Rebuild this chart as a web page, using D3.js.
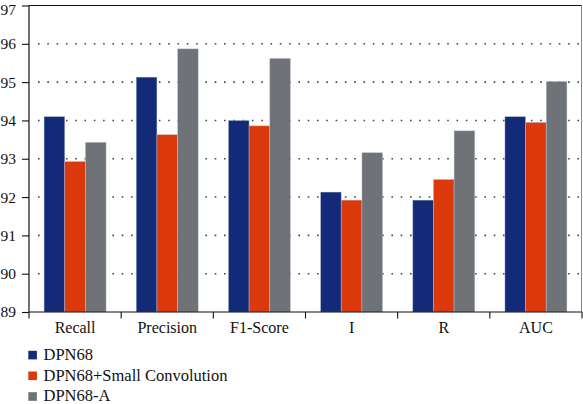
<!DOCTYPE html>
<html>
<head>
<meta charset="utf-8">
<script src="https://cdn.jsdelivr.net/npm/d3@7/dist/d3.min.js"></script>
<style>
  html, body { margin: 0; padding: 0; background: #fff; }
  svg { display: block; }
  text { font-family: "Liberation Serif", "DejaVu Serif", serif; fill: #111; }
</style>
</head>
<body>
<svg id="chart" width="583" height="404"></svg>
<script>
const categories = ["Recall", "Precision", "F1-Score", "I", "R", "AUC"];
const seriesNames = ["DPN68", "DPN68+Small Convolution", "DPN68-A"];
const dpn68 = [94.10, 95.13, 94.00, 92.13, 91.92, 94.10];
const dpn68Small = [92.93, 93.63, 93.86, 91.92, 92.46, 93.95];
const dpn68A = [93.43, 95.87, 95.62, 93.16, 93.73, 95.02];
const yTicks = [89, 90, 91, 92, 93, 94, 95, 96, 97];
const colors = ["#132a78", "#db380b", "#6f7377"];

const seriesValues = [dpn68, dpn68Small, dpn68A];

const svg = d3.select("#chart");
const mLeft = 29, mRight = 582, mTop = 5.5, mBottom = 312;

const y = d3.scaleLinear().domain([89, 97]).range([mBottom, mTop]);
const xOuter = d3.scaleBand().domain(categories).range([mLeft, mRight]).padding(0);
const x0 = d3.scaleBand().domain(categories).range([mLeft, mRight])
  .paddingInner(0.327).paddingOuter(0.1635);
const x1 = d3.scaleBand().domain(seriesNames).range([0, x0.bandwidth()]).padding(0);

// gridlines (dotted), behind bars
svg.append("g").selectAll("line")
  .data(yTicks.filter(t => t > 89 && t < 97))
  .join("line")
  .attr("x1", mLeft + 9).attr("x2", mRight)
  .attr("y1", d => y(d)).attr("y2", d => y(d))
  .attr("stroke", "#444")
  .attr("stroke-width", 1.6)
  .attr("stroke-dasharray", "1.6 7.7");

// bars
const groups = svg.append("g").selectAll("g")
  .data(categories)
  .join("g")
  .attr("transform", d => `translate(${x0(d)},0)`);

groups.selectAll("rect")
  .data((c, i) => seriesNames.map((s, j) => ({ s, j, v: seriesValues[j][i] })))
  .join("rect")
  .attr("x", d => x1(d.s))
  .attr("width", x1.bandwidth())
  .attr("y", d => y(d.v))
  .attr("height", d => y(89) - y(d.v))
  .attr("fill", d => colors[d.j])
  .attr("stroke", "rgba(200,205,220,0.55)")
  .attr("stroke-width", 0.7);

// frame top and right
svg.append("line").attr("x1", mLeft).attr("x2", mRight).attr("y1", mTop).attr("y2", mTop)
  .attr("stroke", "#111").attr("stroke-width", 1.2);
svg.append("line").attr("x1", mRight - 0.5).attr("x2", mRight - 0.5).attr("y1", mTop).attr("y2", mBottom)
  .attr("stroke", "#888").attr("stroke-width", 1);

// y axis
const yAxis = d3.axisLeft(y).tickValues(yTicks).tickSize(7).tickPadding(6).tickFormat(d3.format("d"));
const gy = svg.append("g").attr("transform", `translate(${mLeft},0)`).call(yAxis);
gy.select(".domain").attr("stroke", "#111").attr("stroke-width", 1.2).attr("d", `M0,${mTop}V${mBottom}`);
gy.selectAll(".tick line").attr("stroke", "#111").attr("stroke-width", 1.1);
gy.selectAll(".tick text").style("font-family", "Liberation Serif, serif").style("font-size", "15.5px").attr("fill", "#111");
// keep the top label inside the picture
gy.selectAll(".tick text").filter(d => d === 97).attr("dy", "0.55em");

// x axis: line, boundary ticks, centred labels
const gx = svg.append("g");
gx.append("line").attr("x1", mLeft).attr("x2", mRight).attr("y1", mBottom).attr("y2", mBottom)
  .attr("stroke", "#111").attr("stroke-width", 1.2);
const boundaries = categories.map(c => xOuter(c)).concat([xOuter(categories[categories.length - 1]) + xOuter.bandwidth()]);
gx.selectAll("line.tk").data(boundaries).join("line").attr("class", "tk")
  .attr("x1", d => d).attr("x2", d => d)
  .attr("y1", mBottom).attr("y2", mBottom + 6.5)
  .attr("stroke", "#111").attr("stroke-width", 1.1);
gx.selectAll("text").data(categories).join("text")
  .attr("x", d => xOuter(d) + xOuter.bandwidth() / 2)
  .attr("y", 333)
  .attr("text-anchor", "middle")
  .style("font-size", "16px")
  .text(d => d);

// legend
const legend = svg.append("g");
const baselines = [360, 380.7, 401.4];
seriesNames.forEach((s, i) => {
  legend.append("rect").attr("x", 28.3).attr("y", baselines[i] - 9.2)
    .attr("width", 8.6).attr("height", 8.6).attr("fill", colors[i]);
  legend.append("text").attr("x", 43.5).attr("y", baselines[i])
    .style("font-size", "16.5px").text(s);
});
</script>
</body>
</html>
